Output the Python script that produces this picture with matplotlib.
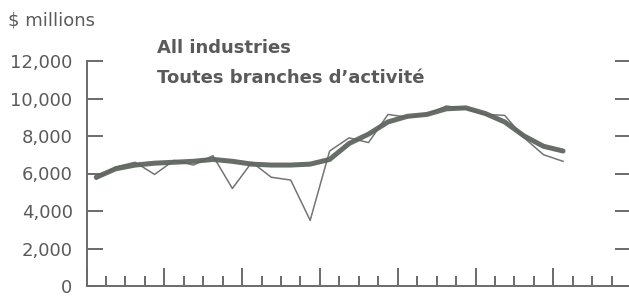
import numpy as np
import matplotlib
matplotlib.use("Agg")
import matplotlib.pyplot as plt

# quarterly values, $ millions
quarters = np.arange(25) + 0.5
actual = [5700, 6350, 6600, 5950, 6700, 6450, 6950, 5200, 6600, 5800,
          5650, 3500, 7200, 7900, 7650, 9150, 9000, 9150, 9600, 9450,
          9150, 9100, 7900, 7000, 6650]
trend = [5800, 6250, 6450, 6550, 6600, 6650, 6750, 6650, 6500, 6450,
         6450, 6500, 6750, 7600, 8100, 8750, 9050, 9150, 9450, 9500,
         9200, 8750, 8000, 7450, 7200]

y_ticks = [0, 2000, 4000, 6000, 8000, 10000, 12000]
y_labels = ["0", "2,000", "4,000", "6,000", "8,000", "10,000", "12,000"]
title_en = "All industries"
title_fr = "Toutes branches d\u2019activité"
unit = "$ millions"

text_color = "#5a5a5a"
axis_color = "#6a6a6a"


def main():
    plt.rcParams['font.family'] = ['DejaVu Sans']
    fig = plt.figure(figsize=(6.29, 3.01), dpi=100)
    ax = fig.add_axes([86.5 / 629, 15 / 301, 544.6 / 629, 225 / 301])

    ax.plot(quarters, actual, color="#747474", lw=1.1, zorder=2)
    ax.plot(quarters, trend, color="#5f655f", lw=3.6, alpha=0.95,
            solid_capstyle="round", zorder=3)

    ax.set_xlim(0, 28)
    ax.set_ylim(0, 12000)

    for side in ["left", "bottom", "right"]:
        ax.spines[side].set_color(axis_color)
        ax.spines[side].set_linewidth(1.4)
    ax.spines["top"].set_visible(False)

    ax.set_yticks(y_ticks)
    ax.set_yticklabels(y_labels)
    ax.tick_params(axis="y", direction="in", length=11.5, width=1.4,
                   color=axis_color, labelcolor=text_color, labelsize=13,
                   pad=10, right=True)

    ax.set_xticks(np.arange(0, 29, 4))
    ax.set_xticks([q for q in range(28) if q % 4 != 0], minor=True)
    ax.tick_params(axis="x", which="major", direction="in", length=13,
                   width=1.4, color=axis_color, labelbottom=False)
    ax.tick_params(axis="x", which="minor", direction="in", length=7,
                   width=1.4, color=axis_color)

    fig.text(8 / 629, 1 - 25 / 301, unit, fontsize=13, color=text_color,
             va="baseline")
    fig.text(157 / 629, 1 - 53 / 301, title_en, fontsize=13,
             fontweight="bold", color=text_color, va="baseline")
    fig.text(157 / 629, 1 - 83 / 301, title_fr, fontsize=13,
             fontweight="bold", color=text_color, va="baseline")

    fig.savefig("out.png", dpi=100)


if __name__ == "__main__":
    main()
